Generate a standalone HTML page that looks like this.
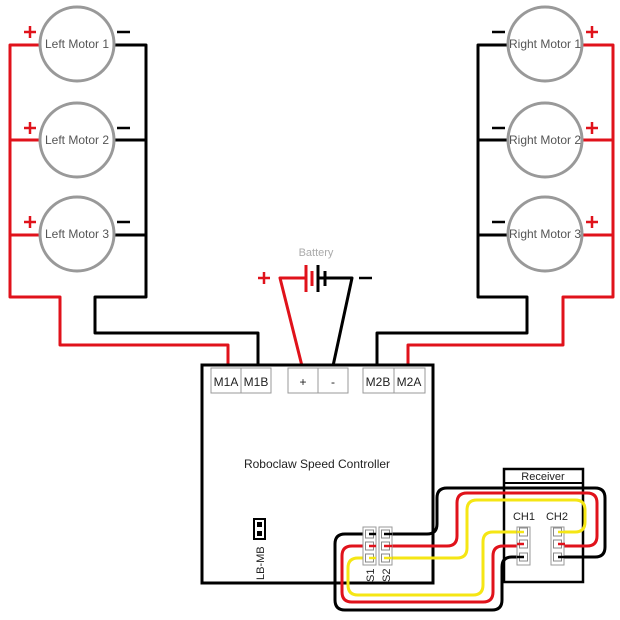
<!DOCTYPE html>
<html><head><style>
body{margin:0;background:#fff;}
svg{display:block;font-family:"Liberation Sans",sans-serif;}
</style></head><body>
<svg width="620" height="620" viewBox="0 0 620 620">
<g fill="none" stroke-width="3" stroke-linejoin="round">
<!-- left red -->
<path d="M40 45 H10 V297 H60 V345 H228 V366 M40 140 H10 M40 235 H10" stroke="#e0121b"/>
<!-- left black -->
<path d="M114 45 H146 V297 H95 V333 H258 V366 M114 140 H146 M114 235 H146" stroke="#000"/>
<!-- right red -->
<path d="M582 45 H613 V297 H563 V345 H408 V366 M582 140 H613 M582 235 H613" stroke="#e0121b"/>
<!-- right black -->
<path d="M508 45 H478 V297 H527 V333 H377 V366 M508 140 H478 M508 235 H478" stroke="#000"/>
<!-- battery -->
<path d="M302 366 L280 278 H305" stroke="#e0121b"/>
<path d="M318 278 H352 L333 366" stroke="#000"/>
</g>
<g stroke-width="3">
<line x1="306" y1="265" x2="306" y2="292" stroke="#e0121b"/>
<line x1="312" y1="271" x2="312" y2="286" stroke="#e0121b"/>
<line x1="318" y1="265" x2="318" y2="292" stroke="#000"/>
<line x1="325" y1="271" x2="325" y2="286" stroke="#000"/>
</g>
<text x="316" y="256" font-size="11" fill="#aaa" text-anchor="middle">Battery</text>
<g stroke-width="2.5">
<line x1="258" y1="278" x2="270" y2="278" stroke="#e0121b"/><line x1="264" y1="272" x2="264" y2="284" stroke="#e0121b"/>
<line x1="359" y1="278" x2="372" y2="278" stroke="#000"/>
</g>
<!-- motors -->
<g fill="#fff" stroke="#999" stroke-width="3">
<circle cx="77" cy="44" r="37"/><circle cx="77" cy="140" r="37"/><circle cx="77" cy="234" r="37"/>
<circle cx="545" cy="44" r="37"/><circle cx="545" cy="140" r="37"/><circle cx="545" cy="234" r="37"/>
</g>
<g font-size="12" fill="#555" text-anchor="middle">
<text x="77" y="48">Left Motor 1</text><text x="77" y="144">Left Motor 2</text><text x="77" y="238">Left Motor 3</text>
<text x="545" y="48">Right Motor 1</text><text x="545" y="144">Right Motor 2</text><text x="545" y="238">Right Motor 3</text>
</g>
<g stroke-width="2.5">
<g stroke="#e0121b">
<path d="M24 32 H36 M30 26 V38"/><path d="M24 128 H36 M30 122 V134"/><path d="M24 222 H36 M30 216 V228"/>
<path d="M586 32 H598 M592 26 V38"/><path d="M586 128 H598 M592 122 V134"/><path d="M586 222 H598 M592 216 V228"/>
</g>
<g stroke="#000">
<path d="M117 32 H130"/><path d="M117 128 H130"/><path d="M117 222 H130"/>
<path d="M492 32 H505"/><path d="M492 128 H505"/><path d="M492 222 H505"/>
</g>
</g>
<!-- controller -->
<rect x="202" y="365" width="231" height="218" fill="#fff" stroke="#000" stroke-width="3"/>
<g fill="#fff" stroke="#999" stroke-width="1">
<rect x="211" y="368" width="30" height="25"/><rect x="241" y="368" width="30" height="25"/>
<rect x="288" y="368" width="30" height="25"/><rect x="318" y="368" width="30" height="25"/>
<rect x="363" y="368" width="31" height="25"/><rect x="394" y="368" width="31" height="25"/>
</g>
<g font-size="12" fill="#222" text-anchor="middle">
<text x="226" y="386">M1A</text><text x="256" y="386">M1B</text>
<text x="303" y="386">+</text><text x="333" y="386">-</text>
<text x="378" y="386">M2B</text><text x="409" y="386">M2A</text>
<text x="317" y="468">Roboclaw Speed Controller</text>
</g>
<rect x="254" y="519" width="11" height="20" fill="#fff" stroke="#000" stroke-width="2"/>
<rect x="257" y="522" width="5" height="5" fill="#000"/><rect x="257" y="531" width="5" height="5" fill="#000"/>
<text transform="translate(264,580) rotate(-90)" font-size="11" fill="#222">LB-MB</text>
<!-- receiver -->
<rect x="504" y="469" width="79" height="113" fill="#fff" stroke="#000" stroke-width="2.5"/>
<line x1="504" y1="483" x2="583" y2="483" stroke="#000" stroke-width="2"/>
<text x="543" y="480" font-size="11" fill="#222" text-anchor="middle">Receiver</text>
<text x="524" y="520" font-size="11" fill="#222" text-anchor="middle">CH1</text>
<text x="557" y="520" font-size="11" fill="#222" text-anchor="middle">CH2</text>
<!-- servo wires -->
<g fill="none" stroke-width="3" stroke-linejoin="round">
<path d="M383 534 H427 Q437 534 437 524 V498 Q437 488 447 488 H595 Q605 488 605 498 V547 Q605 557 595 557 H558" stroke="#000"/>
<path d="M383 546 H447 Q457 546 457 536 V503 Q457 493 467 493 H587 Q597 493 597 503 V536 Q597 546 587 546 H558" stroke="#e0121b"/>
<path d="M383 558 H457 Q467 558 467 548 V510 Q467 500 477 500 H575 Q585 500 585 510 V522 Q585 532 575 532 H558" stroke="#f5e614"/>
<path d="M368 534 H345 Q335 534 335 544 V600 Q335 610 345 610 H492 Q502 610 502 600 V567 Q502 557 512 557 H523" stroke="#000"/>
<path d="M368 546 H352 Q342 546 342 556 V592 Q342 602 352 602 H483 Q493 602 493 592 V556 Q493 546 503 546 H523" stroke="#e0121b"/>
<path d="M368 558 H358 Q348 558 348 568 V585 Q348 595 358 595 H473 Q483 595 483 585 V542 Q483 532 493 532 H523" stroke="#f5e614"/>
</g>
<!-- headers -->
<g fill="#fff" stroke="#999" stroke-width="1">
<rect x="363" y="527" width="13" height="38"/><rect x="379" y="527" width="13" height="38"/>
<rect x="517" y="527" width="13" height="38"/><rect x="551" y="527" width="13" height="38"/>
</g>
<g fill="#fff" stroke="#888" stroke-width="1">
<rect x="365.5" y="530" width="8" height="8"/><rect x="365.5" y="542" width="8" height="8"/><rect x="365.5" y="554" width="8" height="8"/>
<rect x="381.5" y="530" width="8" height="8"/><rect x="381.5" y="542" width="8" height="8"/><rect x="381.5" y="554" width="8" height="8"/>
<rect x="519.5" y="528" width="8" height="8"/><rect x="519.5" y="540" width="8" height="8"/><rect x="519.5" y="553" width="8" height="8"/>
<rect x="553.5" y="528" width="8" height="8"/><rect x="553.5" y="540" width="8" height="8"/><rect x="553.5" y="553" width="8" height="8"/>
</g>
<g stroke-width="2.5" fill="none">
<path d="M369 534 H376 M384 534 H392" stroke="#000"/>
<path d="M369 546 H376 M384 546 H392" stroke="#e0121b"/>
<path d="M369 558 H376 M384 558 H392" stroke="#f5e614"/>
<path d="M517 532 H524 M558 532 H565" stroke="#f5e614"/>
<path d="M517 544 H524 M558 544 H565" stroke="#e0121b"/>
<path d="M517 557 H524 M558 557 H565" stroke="#000"/>
</g>
<text transform="translate(374,582) rotate(-90)" font-size="11" fill="#222">S1</text>
<text transform="translate(390,582) rotate(-90)" font-size="11" fill="#222">S2</text>
</svg>
</body></html>
